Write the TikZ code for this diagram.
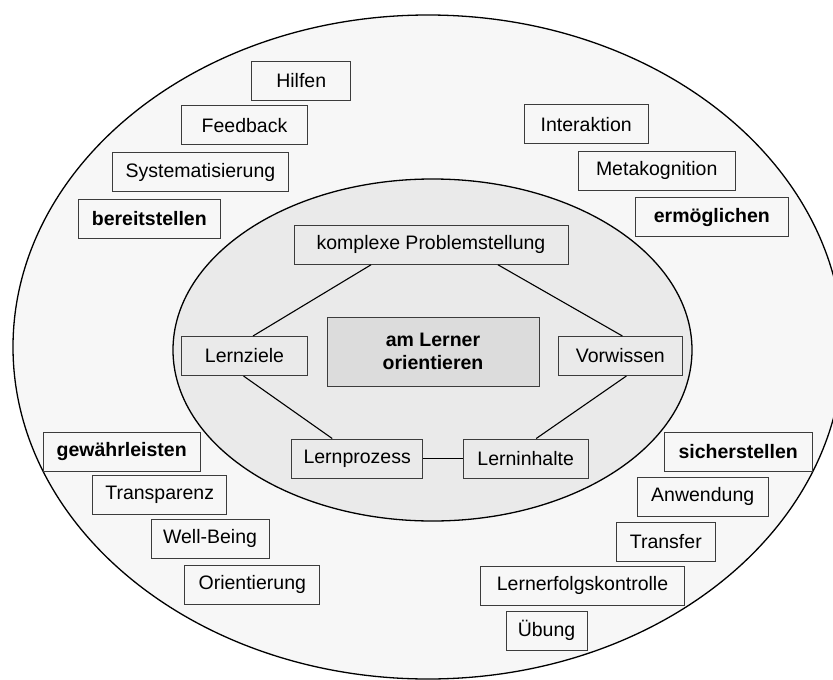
\documentclass[tikz,border=0pt]{standalone}
\usepackage{fontspec}
\setmainfont{Liberation Sans}
\definecolor{ringfill}{HTML}{F7F7F7}
\definecolor{corefill}{HTML}{EAEAEA}
\definecolor{hubfill}{HTML}{DCDCDC}
\definecolor{boxline}{HTML}{3C3C3C}
\begin{document}
\begin{tikzpicture}[x=1pt,y=-1pt,
  lbl/.style={draw=boxline, line width=1pt, inner sep=0pt, minimum height=39pt,
    font=\fontsize{19.5}{23}\selectfont, text=black},
  ringbox/.style={lbl, fill=ringfill},
  verbbox/.style={ringbox, font=\fontsize{19.5}{23}\selectfont\bfseries},
  corebox/.style={lbl, fill=corefill},
  hubbox/.style={lbl, fill=hubfill, align=center, font=\fontsize{19.5}{23}\selectfont\bfseries},
  link/.style={draw=black, line width=1.1pt}]
\useasboundingbox (0,0) rectangle (833,680);
\fill[white] (0,0) rectangle (833,680);
\clip (0,0) rectangle (833,680);

% the two rings
\draw[line width=1.3pt, fill=ringfill] (428,347) ellipse [x radius=415, y radius=332];
\draw[line width=1.3pt, fill=corefill] (432.5,350) ellipse [x radius=259.5, y radius=171];

% upper left group
\node[ringbox, minimum width=99pt]    (hilfen) at (301.2,80.9)  {Hilfen};
\node[ringbox, minimum width=125.6pt] (feedb)  at (244.5,125.4) {Feedback};
\node[ringbox, minimum width=175.6pt] (syst)   at (200.5,172)   {Systematisierung};
\node[verbbox, minimum width=142pt]   (bereit) at (149.3,218.7) {bereitstellen};

% upper right group
\node[ringbox, minimum width=124.3pt] (inter)  at (586.2,124.2) {Interaktion};
\node[ringbox, minimum width=157.3pt] (meta)   at (656.7,170.7) {Metakognition};
\node[verbbox, minimum width=153pt]   (ermoeg) at (711.8,217.2) {ermöglichen};

% lower left group
\node[verbbox, minimum width=156.7pt] (gewaehr) at (121.7,451.8) {gewährleisten};
\node[ringbox, minimum width=134pt]   (transp)  at (159.7,495.2) {Transparenz};
\node[ringbox, minimum width=118pt]   (wellb)   at (210,538.5)   {Well-Being};
\node[ringbox, minimum width=134.7pt] (orient)  at (252.3,584.8) {Orientierung};

% lower right group
\node[verbbox, minimum width=148.3pt] (sicher)  at (738.2,451.7) {sicherstellen};
\node[ringbox, minimum width=130.7pt] (anwend)  at (702.7,496.7) {Anwendung};
\node[ringbox, minimum width=99pt]    (transf)  at (665.8,541.7) {Transfer};
\node[ringbox, minimum width=203.6pt] (erfolg)  at (582.5,585.7) {Lernerfolgskontrolle};
\node[ringbox, minimum width=81pt]    (uebung)  at (546.5,630.5) {Übung};

% inner ring
\node[corebox, minimum width=274pt]   (kp) at (431,244.8)   {komplexe Problemstellung};
\node[corebox, minimum width=125.7pt] (lz) at (244.5,356)   {Lernziele};
\node[corebox, minimum width=124pt]   (vw) at (620.4,356)   {Vorwissen};
\node[corebox, minimum width=130.5pt] (lp) at (357.2,458.5) {Lernprozess};
\node[corebox, minimum width=124.7pt] (li) at (525.7,458.5) {Lerninhalte};
\node[hubbox, minimum width=212pt, minimum height=69pt] (hub) at (433,351.8) {am Lerner\\orientieren};

% connectors
\draw[link] ([xshift=-60pt]kp.south) -- ([xshift=8.5pt]lz.north);
\draw[link] ([xshift=67pt]kp.south) -- ([xshift=2pt]vw.north);
\draw[link] ([xshift=-1pt]lz.south) -- ([xshift=-25pt]lp.north);
\draw[link] ([xshift=6pt]vw.south) -- ([xshift=10.5pt]li.north);
\draw[link, line width=1.6pt] (lp.east) -- (li.west);
\end{tikzpicture}
\end{document}
